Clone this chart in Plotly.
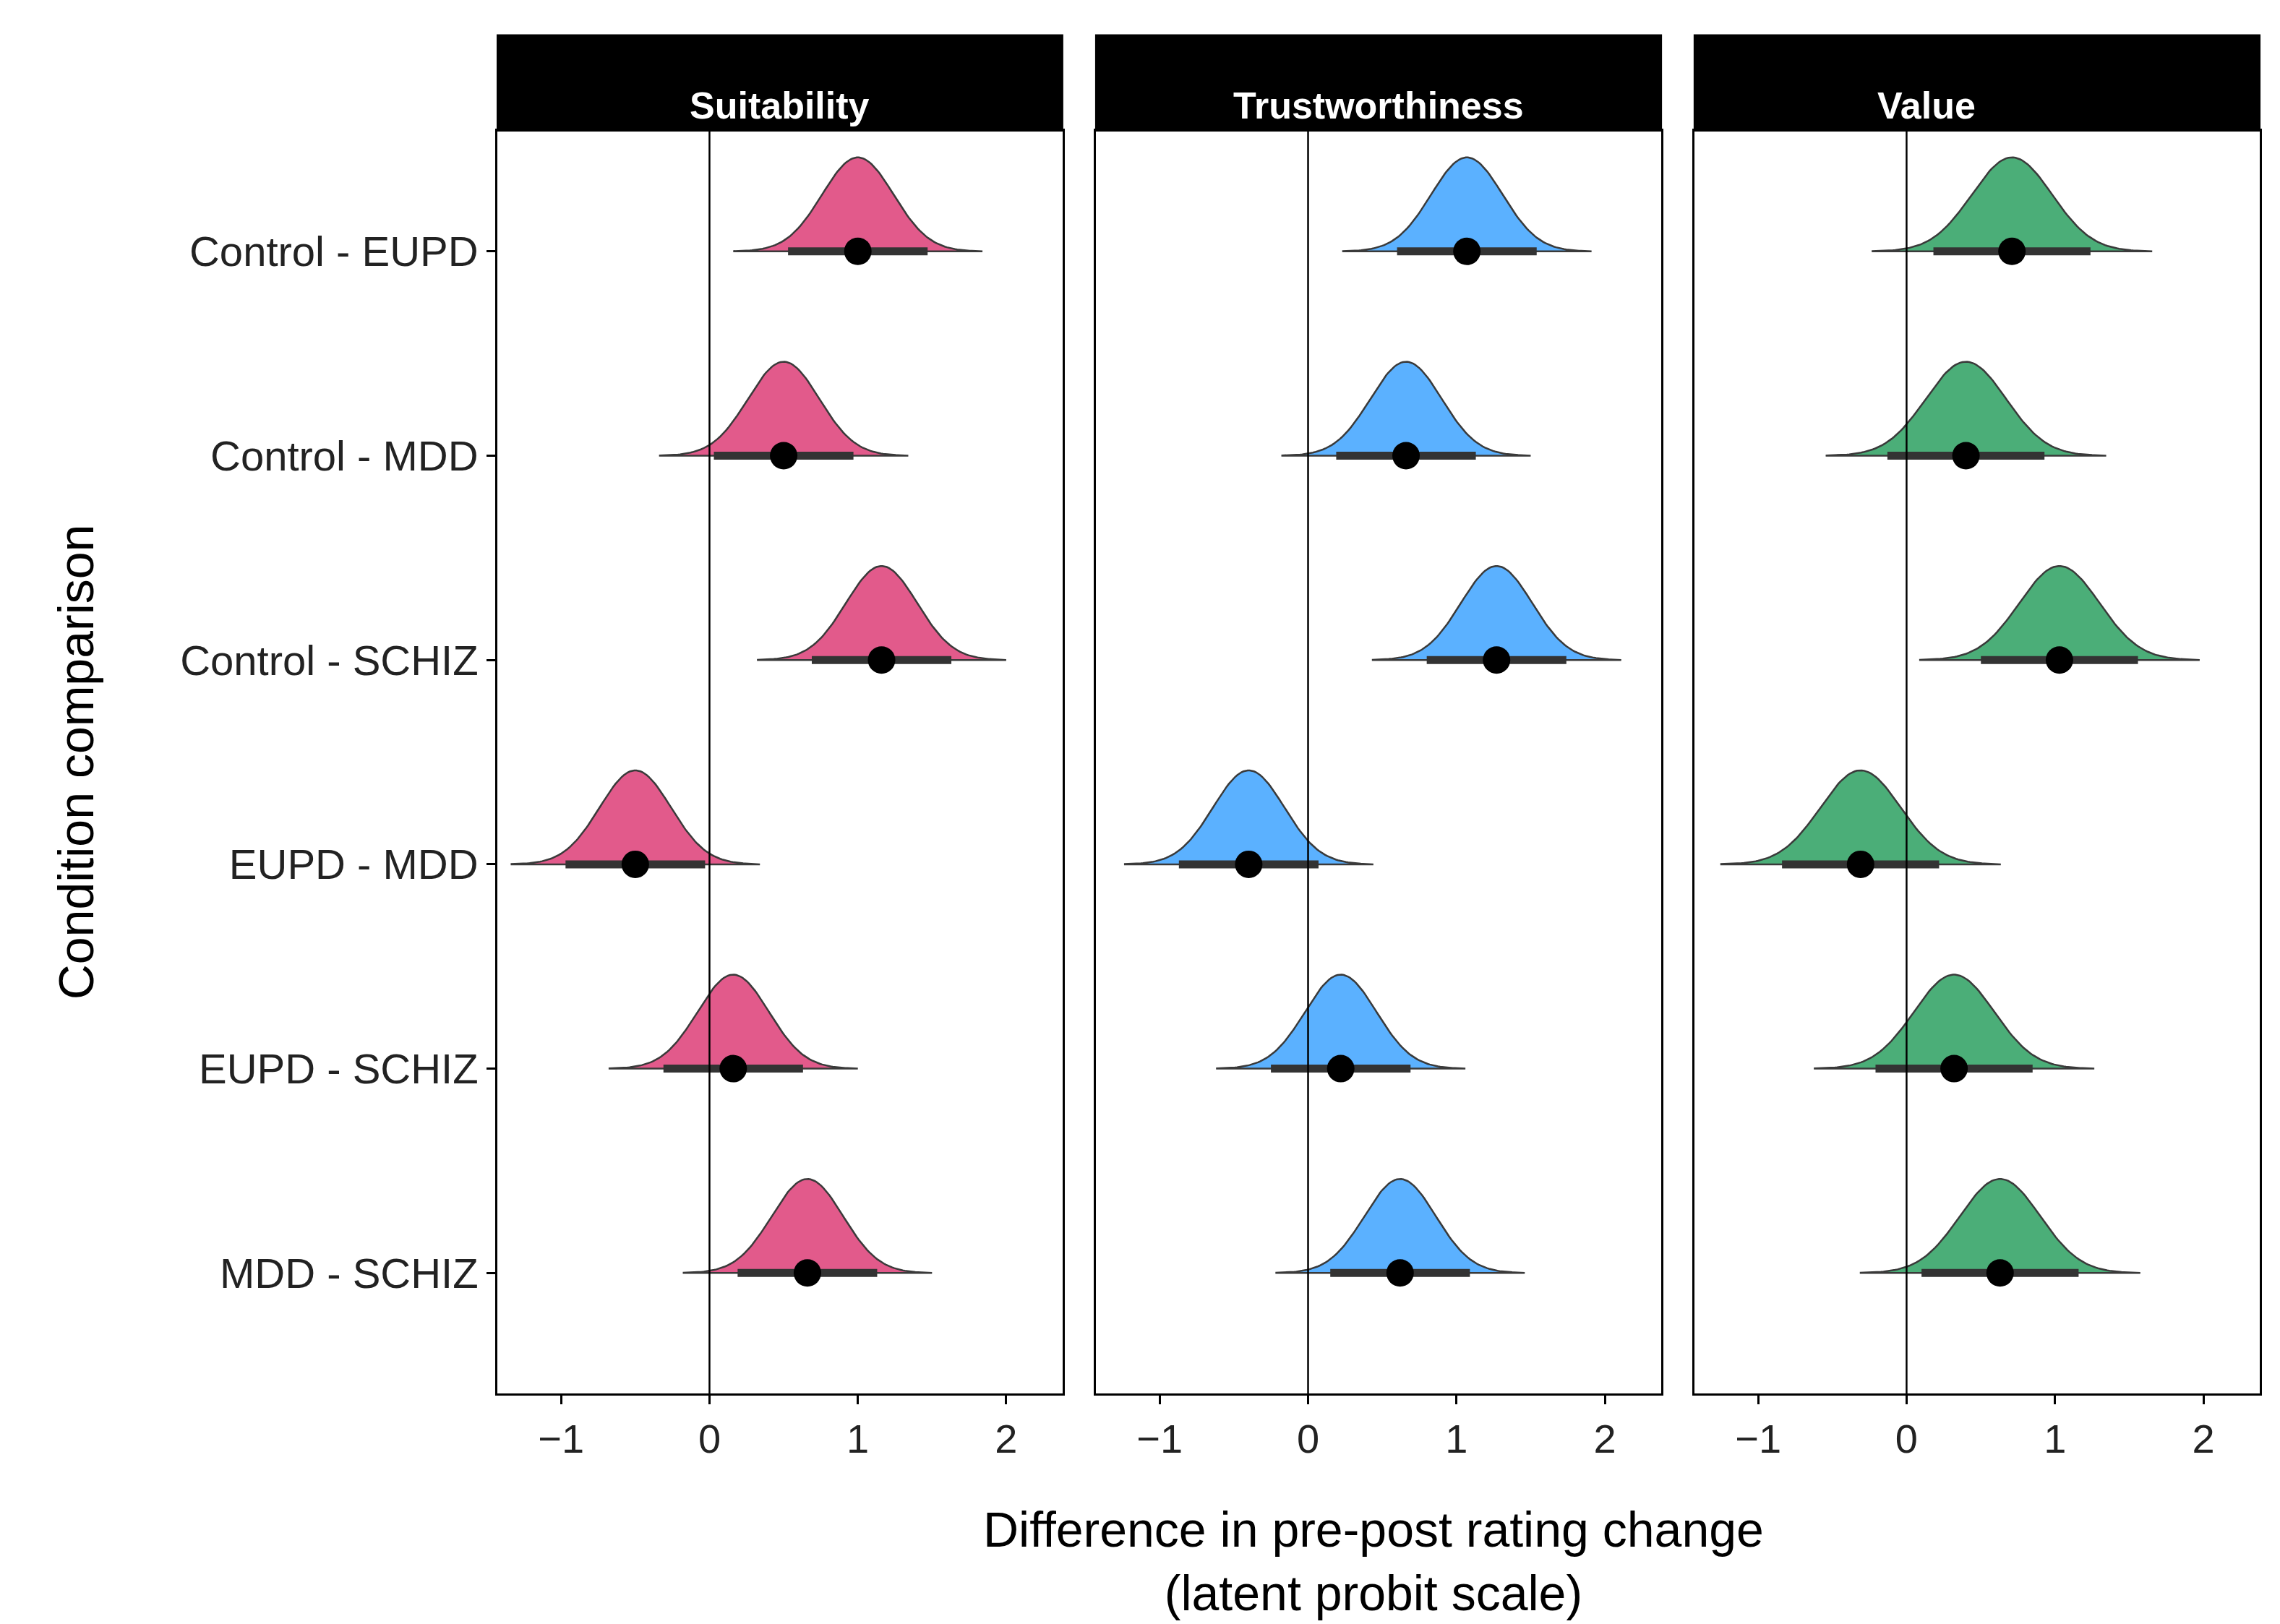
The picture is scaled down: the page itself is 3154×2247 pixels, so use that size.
import numpy as np
import plotly.graph_objects as go

W, H = 3154, 2247

comparisons = ["Control - EUPD", "Control - MDD", "Control - SCHIZ",
               "EUPD - MDD", "EUPD - SCHIZ", "MDD - SCHIZ"]
panels = ["Suitability", "Trustworthiness", "Value"]
colors = ["#E25A8B", "#5BB1FF", "#4BAE78"]

suit_mean = [1.00, 0.50, 1.16, -0.50, 0.16, 0.66]
trust_mean = [1.07, 0.66, 1.27, -0.40, 0.22, 0.62]
value_mean = [0.71, 0.40, 1.03, -0.31, 0.32, 0.63]
means = [suit_mean, trust_mean, value_mean]
panel_sd = [0.24, 0.24, 0.27]

xdom = [(0.2156, 0.4635), (0.4781, 0.7261), (0.7406, 0.9886)]
ydom = (0.1455, 0.923)
strip_top = 0.982

fig = go.Figure()
font = "Liberation Sans, Arial"

for p, name in enumerate(panels):
    ax = "" if p == 0 else str(p + 1)
    sd = panel_sd[p]
    for r, m in enumerate(means[p]):
        row = r + 1
        xs = np.linspace(m - 3.5 * sd, m + 3.5 * sd, 120)
        dens = np.exp(-0.5 * ((xs - m) / sd) ** 2)
        ys = row - 0.46 * dens
        fig.add_trace(go.Scatter(
            x=np.concatenate([xs, xs[::-1]]),
            y=np.concatenate([ys, np.full(len(xs), row)]),
            fill="toself", fillcolor=colors[p], mode="lines",
            line=dict(color="#3a3a3a", width=2.5),
            showlegend=False, hoverinfo="skip",
            xaxis="x" + ax, yaxis="y" + ax))
        fig.add_trace(go.Scatter(
            x=[m - 1.96 * sd, m + 1.96 * sd], y=[row, row], mode="lines",
            line=dict(color="#333333", width=11),
            showlegend=False, hoverinfo="skip",
            xaxis="x" + ax, yaxis="y" + ax))
        fig.add_trace(go.Scatter(
            x=[m], y=[row], mode="markers",
            marker=dict(color="black", size=38),
            showlegend=False, xaxis="x" + ax, yaxis="y" + ax))
    # zero line
    fig.add_shape(type="line", x0=0, x1=0, y0=0, y1=1,
                  xref="x" + ax, yref="y" + ax + " domain",
                  line=dict(color="black", width=2.5))
    # strip
    fig.add_shape(type="rect", xref="paper", yref="paper",
                  x0=xdom[p][0], x1=xdom[p][1], y0=ydom[1], y1=strip_top,
                  fillcolor="black", line=dict(color="black", width=2))
    fig.add_annotation(x=(xdom[p][0] + xdom[p][1]) / 2,
                       y=(ydom[1] + strip_top) / 2, xref="paper", yref="paper",
                       text="<b>" + name + "</b>", showarrow=False,
                       font=dict(size=52, color="white", family=font))
    fig.layout["xaxis" + ax] = dict(
        domain=xdom[p], range=[-1.43, 2.38], tickvals=[-1, 0, 1, 2],
        ticks="outside", ticklen=12, tickwidth=2.5, tickcolor="black",
        showgrid=False, zeroline=False, showline=True, mirror=True,
        linecolor="black", linewidth=2.5,
        tickfont=dict(size=56, color="#222", family=font),
        anchor="y" + ax)
    fig.layout["yaxis" + ax] = dict(
        domain=ydom, range=[6.59, 0.41], tickvals=list(range(1, 7)),
        ticktext=comparisons if p == 0 else None,
        showticklabels=(p == 0),
        ticks="outside" if p == 0 else "", ticklen=12, tickwidth=2.5,
        tickcolor="black", showgrid=False, zeroline=False, showline=True,
        mirror=True, linecolor="black", linewidth=2.5,
        tickfont=dict(size=58, color="#222", family=font),
        anchor="x" + ax)

fig.add_annotation(x=0.6, y=0.005, xref="paper", yref="paper",
                   text="Difference in pre-post rating change<br>(latent probit scale)",
                   showarrow=False, yanchor="bottom",
                   font=dict(size=68, color="black", family=font))
fig.add_annotation(x=0.018, y=(ydom[0] + ydom[1]) / 2, xref="paper", yref="paper",
                   text="Condition comparison", textangle=-90, showarrow=False,
                   font=dict(size=68, color="black", family=font))

fig.update_layout(width=W, height=H, margin=dict(l=0, r=0, t=0, b=0),
                  plot_bgcolor="white", paper_bgcolor="white")
fig.write_html("out.html")
